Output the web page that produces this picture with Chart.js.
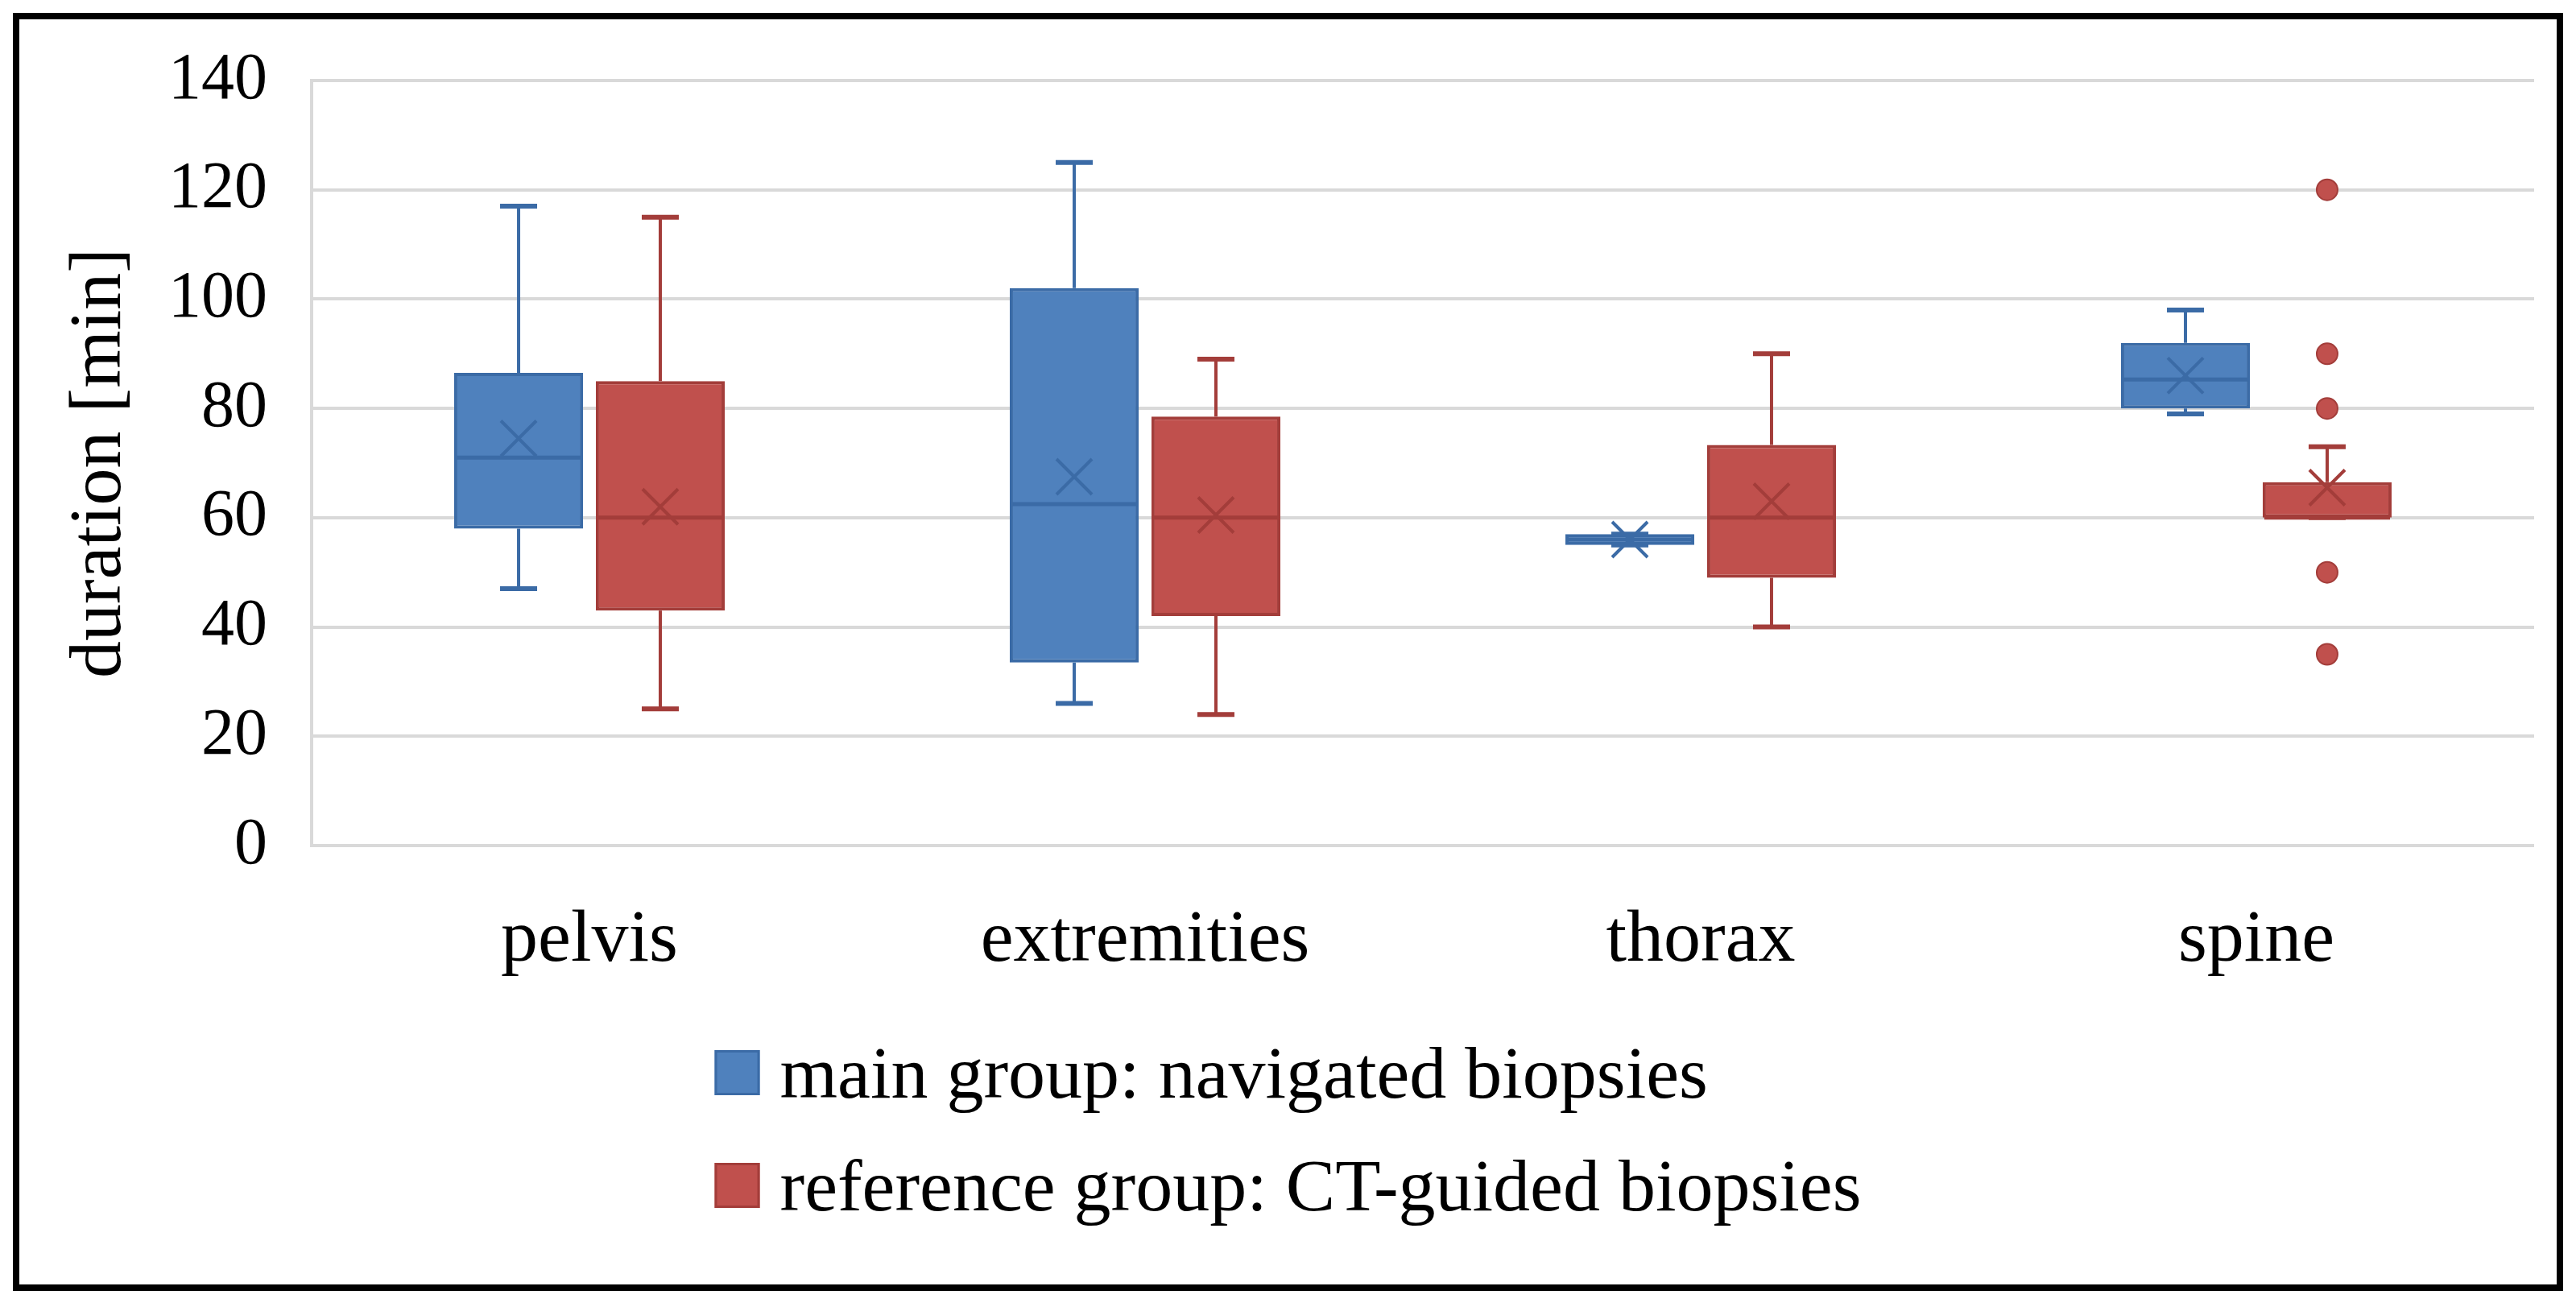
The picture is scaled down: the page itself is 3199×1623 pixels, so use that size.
<!DOCTYPE html>
<html>
<head>
<meta charset="utf-8">
<script src="https://cdn.jsdelivr.net/npm/chart.js@4.4.0/dist/chart.umd.min.js"></script>
<style>
  html, body { margin: 0; padding: 0; background: #fff; }
  #frame { position: absolute; left: 16px; top: 16px; width: 3167px; height: 1587px; border: 8px solid #000; box-sizing: border-box; }
  #frame canvas { display: block; }
</style>
</head>
<body>
<div id="frame"><canvas id="chart"></canvas></div>
<script>
// categories and series
const regions = ["pelvis", "extremities", "thorax", "spine"]
const seriesNames = ["main group: navigated biopsies", "reference group: CT-guided biopsies"]

// main group (navigated) - five number summary, mean, outliers
const mainMin = [47, 26, 55, 79]
const mainQ1 = [58, 33.5, 55, 80]
const mainMedian = [71, 62.5, 56, 85.3]
const mainQ3 = [86.5, 102, 57, 92]
const mainMax = [117, 125, 57, 98]
const mainMean = [74.5, 67.5, 56, 86]
const mainOutliers = [[], [], [], []]

// reference group (CT-guided)
const refMin = [25, 24, 40, 60]
const refQ1 = [43, 42, 49, 60]
const refMedian = [60, 60, 60, 60]
const refQ3 = [85, 78.5, 73.3, 66.5]
const refMax = [115, 89, 90, 73]
const refMean = [62, 60.5, 63, 65.5]
const refOutliers = [[], [], [], [35, 50, 80, 90, 120]]

// y axis
const yMin = 0
const yMax = 140
const yStep = 20

const serif = "'Liberation Serif', 'DejaVu Serif', serif"
const blueFill = "#4F81BD", blueLine = "#3B6BA6"
const redFill = "#C0504D", redLine = "#A33D3A"

// whiskers, medians, means and outliers on top of the floating bars
const boxPlotExtras = {
    id: "boxPlotExtras",
    afterDatasetsDraw(chart) {
        let ctx = chart.ctx
        let y = chart.scales.y
        chart.data.datasets.forEach(function(ds, di) {
            let meta = chart.getDatasetMeta(di)
            let s = ds.stats
            meta.data.forEach(function(bar, i) {
                let x = bar.x
                let half = bar.width / 2
                let pMin = y.getPixelForValue(s.min[i])
                let pQ1 = y.getPixelForValue(ds.data[i][0])
                let pQ3 = y.getPixelForValue(ds.data[i][1])
                let pMax = y.getPixelForValue(s.max[i])
                let pMed = y.getPixelForValue(s.median[i])
                let pMean = y.getPixelForValue(s.mean[i])
                ctx.save()
                ctx.strokeStyle = ds.borderColor
                ctx.lineCap = "butt"

                // whiskers
                ctx.lineWidth = 4
                ctx.beginPath()
                ctx.moveTo(x, pQ3); ctx.lineTo(x, pMax)
                ctx.moveTo(x, pQ1); ctx.lineTo(x, pMin)
                ctx.stroke()
                ctx.lineWidth = 6
                ctx.beginPath()
                ctx.moveTo(x - 23, pMax); ctx.lineTo(x + 23, pMax)
                ctx.moveTo(x - 23, pMin); ctx.lineTo(x + 23, pMin)
                ctx.stroke()

                // median
                ctx.lineWidth = 5
                ctx.beginPath()
                ctx.moveTo(x - half + 2, pMed); ctx.lineTo(x + half - 2, pMed)
                ctx.stroke()

                // mean (x marker)
                let m = 22
                ctx.lineWidth = 4
                ctx.beginPath()
                ctx.moveTo(x - m, pMean - m); ctx.lineTo(x + m, pMean + m)
                ctx.moveTo(x - m, pMean + m); ctx.lineTo(x + m, pMean - m)
                ctx.stroke()

                // outliers
                s.outliers[i].forEach(function(v) {
                    let py = y.getPixelForValue(v)
                    ctx.beginPath()
                    ctx.arc(x, py, 13, 0, Math.PI * 2)
                    ctx.fillStyle = ds.backgroundColor
                    ctx.fill()
                    ctx.lineWidth = 2
                    ctx.stroke()
                })
                ctx.restore()
            })
        })
    }
}

// two-row legend centred under the chart
const stackedLegend = {
    id: "stackedLegend",
    afterDraw(chart) {
        let ctx = chart.ctx
        let size = 56, gap = 25, rowStep = 140
        ctx.save()
        ctx.font = "92px " + serif
        ctx.textBaseline = "alphabetic"
        ctx.textAlign = "left"
        let widest = 0
        chart.data.datasets.forEach(function(ds) {
            widest = Math.max(widest, size + gap + ctx.measureText(ds.label).width)
        })
        let left = chart.width / 2 - widest / 2
        let top = chart.chartArea.bottom + 254
        chart.data.datasets.forEach(function(ds, di) {
            let by = top + di * rowStep
            ctx.fillStyle = ds.backgroundColor
            ctx.fillRect(left, by, size, size)
            ctx.strokeStyle = ds.borderColor
            ctx.lineWidth = 3
            ctx.strokeRect(left + 1.5, by + 1.5, size - 3, size - 3)
            ctx.fillStyle = "#000"
            ctx.fillText(ds.label, left + size + gap, by + 59)
        })
        ctx.restore()
    }
}

let ctxBox = document.getElementById("chart").getContext("2d")
let chartBox = new Chart(ctxBox, {
    type: "bar",
    data: {
        labels: regions,
        datasets: [
            {
                label: seriesNames[0],
                data: regions.map(function(r, i) { return [mainQ1[i], mainQ3[i]] }),
                stats: { min: mainMin, median: mainMedian, max: mainMax, mean: mainMean, outliers: mainOutliers },
                backgroundColor: blueFill,
                borderColor: blueLine,
                borderWidth: 4,
                borderSkipped: false
            },
            {
                label: seriesNames[1],
                data: regions.map(function(r, i) { return [refQ1[i], refQ3[i]] }),
                stats: { min: refMin, median: refMedian, max: refMax, mean: refMean, outliers: refOutliers },
                backgroundColor: redFill,
                borderColor: redLine,
                borderWidth: 4,
                borderSkipped: false
            }
        ]
    },
    options: {
        responsive: true,
        maintainAspectRatio: false,
        animation: false,
        devicePixelRatio: 1,
        categoryPercentage: 0.51,
        barPercentage: 0.91,
        layout: { padding: { top: 76, right: 28, bottom: 345, left: 0 } },
        plugins: {
            legend: { display: false },
            tooltip: { enabled: false }
        },
        scales: {
            x: {
                grid: { display: false, drawTicks: false },
                border: { display: false },
                ticks: { color: "#000", padding: 64, font: { family: serif, size: 92 } },
                afterFit: function(scale) { scale.height = 200 }
            },
            y: {
                min: yMin,
                max: yMax,
                grid: { color: "#D9D9D9", lineWidth: 4, drawTicks: false },
                border: { display: true, color: "#D9D9D9", width: 4 },
                // small lineHeight keeps the label padding from pushing the plot top down
                ticks: { stepSize: yStep, color: "#000", padding: 55, font: { family: serif, size: 82, lineHeight: 0.2 } },
                title: {
                    display: true,
                    text: "duration [min]",
                    color: "#000",
                    padding: { top: 46, bottom: 0 },
                    font: { family: serif, size: 92 }
                },
                afterFit: function(scale) { scale.width = 363 }
            }
        }
    },
    plugins: [boxPlotExtras, stackedLegend]
})
</script>
</body>
</html>
